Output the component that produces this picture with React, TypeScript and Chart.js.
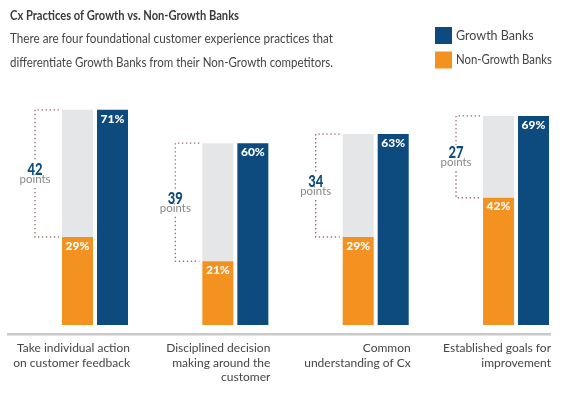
import React, { useEffect, useRef } from 'react';
import { Chart, registerables } from 'chart.js';

Chart.register(...registerables);

// ---- data ----
const categories: string[][] = [
  ['Take individual action', 'on customer feedback'],
  ['Disciplined decision', 'making around the', 'customer'],
  ['Common', 'understanding of Cx'],
  ['Established goals for', 'improvement'],
];
const growthBanks = [71, 60, 63, 69];
const nonGrowthBanks = [29, 21, 29, 42];
const seriesNames = ['Growth Banks', 'Non-Growth Banks'];
const titleText = 'Cx Practices of Growth vs. Non-Growth Banks';
const subtitleLines = [
  'There are four foundational customer experience practices that',
  'differentiate Growth Banks from their Non-Growth competitors.',
];

// ---- styles ----
const BLUE = '#0d4a7e';
const ORANGE = '#f39121';
const GRAY = '#e5e6e7';
const FONT = "Lato, 'Open Sans', sans-serif";

const decorPlugin = {
  id: 'decor',
  afterDatasetsDraw(chart: any) {
    const ctx: CanvasRenderingContext2D = chart.ctx;
    const orangeMeta = chart.getDatasetMeta(0);
    const grayMeta = chart.getDatasetMeta(1);
    const blueMeta = chart.getDatasetMeta(2);
    ctx.save();
    ctx.textAlign = 'center';
    ctx.textBaseline = 'alphabetic';
    ctx.fillStyle = '#ffffff';
    ctx.font = `900 12px ${FONT}`;
    orangeMeta.data.forEach((el: any, i: number) => {
      ctx.fillText(nonGrowthBanks[i] + '%', el.x, el.y + 12.8, 25);
    });
    blueMeta.data.forEach((el: any, i: number) => {
      ctx.fillText(growthBanks[i] + '%', el.x, el.y + 12.8, 25);
    });
    grayMeta.data.forEach((el: any, i: number) => {
      const left = el.x - el.width / 2;
      const bx = left - 27;
      const top = el.y;
      const bottom = orangeMeta.data[i].y;
      const mid = (top + bottom) / 2;
      ctx.strokeStyle = '#a26f6f';
      ctx.lineWidth = 1.4;
      ctx.setLineDash([1.4, 2.6]);
      ctx.beginPath();
      ctx.moveTo(left - 3, top);
      ctx.lineTo(bx, top);
      ctx.lineTo(bx, mid - 12);
      ctx.moveTo(bx, mid + 14.5);
      ctx.lineTo(bx, bottom);
      ctx.lineTo(left - 3, bottom);
      ctx.stroke();
      ctx.setLineDash([]);
      ctx.fillStyle = BLUE;
      ctx.font = `900 17px ${FONT}`;
      ctx.fillText(String(growthBanks[i] - nonGrowthBanks[i]), bx, mid + 1.5, 15);
      ctx.fillStyle = '#888888';
      ctx.font = `12px ${FONT}`;
      ctx.fillText('points', bx, mid + 9.5, 31);
    });
    ctx.restore();
  },
  afterDraw(chart: any) {
    const ctx: CanvasRenderingContext2D = chart.ctx;
    ctx.save();
    ctx.textAlign = 'left';
    ctx.textBaseline = 'alphabetic';
    ctx.fillStyle = '#3b3b3b';
    ctx.font = `bold 13.5px ${FONT}`;
    ctx.fillText(titleText, 10, 20, 229);
    ctx.fillStyle = '#454545';
    ctx.font = `13px ${FONT}`;
    ctx.fillText(subtitleLines[0], 10, 43, 323);
    ctx.fillText(subtitleLines[1], 10, 67, 323);
    // legend
    const colors = [BLUE, ORANGE];
    seriesNames.forEach((name, i) => {
      ctx.fillStyle = colors[i];
      ctx.fillRect(435, 27 + i * 24.5, 17, 17);
      ctx.fillStyle = '#454545';
      ctx.font = `12.5px ${FONT}`;
      ctx.textBaseline = 'middle';
      ctx.fillText(name, 456, 35.5 + i * 24.5, 96);
    });
    ctx.restore();
  },
};

export default function App() {
  const ref = useRef<HTMLCanvasElement | null>(null);
  useEffect(() => {
    if (!ref.current) return;
    const chart = new Chart(ref.current, {
      type: 'bar',
      data: {
        datasets: [
          {
            label: seriesNames[1],
            data: nonGrowthBanks.map((v, i) => ({ x: i, y: v })),
            backgroundColor: ORANGE,
            stack: 'a',
          },
          {
            label: 'gap',
            data: growthBanks.map((v, i) => ({ x: i, y: v - nonGrowthBanks[i] })),
            backgroundColor: GRAY,
            stack: 'a',
          },
          {
            label: seriesNames[0],
            data: growthBanks.map((v, i) => ({ x: i, y: v })),
            backgroundColor: BLUE,
            stack: 'b',
          },
        ],
      },
      options: {
        animation: false,
        responsive: false,
        events: [],
        categoryPercentage: 0.4989,
        barPercentage: 0.886,
        layout: { padding: { left: 8, right: 26, top: 22, bottom: 0 } },
        plugins: {
          legend: { display: false },
          title: { display: false },
          tooltip: { enabled: false },
        },
        scales: {
          x: {
            type: 'linear',
            stacked: true,
            offset: false,
            min: -0.62,
            max: 3.242,
            afterBuildTicks: (scale: any) => {
              scale.ticks = categories.map((_, i) => ({ value: i }));
            },
            afterFit: (scale: any) => {
              scale.height = 63;
              scale.paddingLeft = 0;
              scale.paddingRight = 0;
            },
            grid: { display: false, drawTicks: false, offset: false },
            border: { display: true, color: '#c9c9c9', width: 2.5 },
            ticks: {
              autoSkip: false,
              maxRotation: 0,
              minRotation: 0,
              align: 'end',
              labelOffset: 35,
              padding: 7,
              color: '#454545',
              font: { family: FONT, size: 12, lineHeight: 1.21 },
              callback: (value: any) => categories[value as number] ?? '',
            },
          },
          y: {
            stacked: true,
            display: false,
            min: -3,
            max: 100,
          },
        },
      },
      plugins: [decorPlugin],
    } as any);
    return () => chart.destroy();
  }, []);
  return (
    <div style={{ position: 'fixed', left: 0, top: 0, width: 576, height: 397, background: '#fff' }}>
      <canvas ref={ref} width={576} height={397} />
    </div>
  );
}
